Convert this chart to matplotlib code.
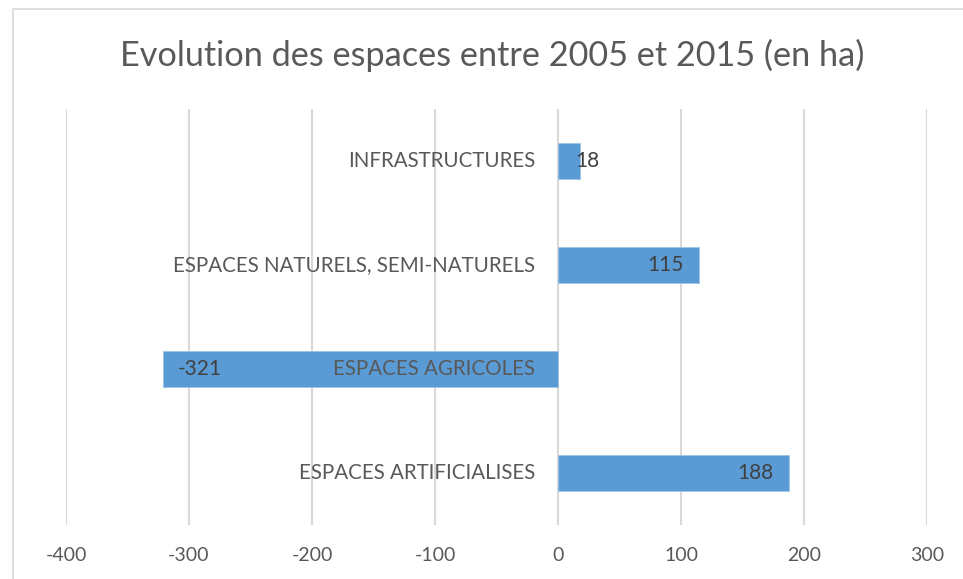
import matplotlib
matplotlib.use("Agg")
import matplotlib.pyplot as plt
from matplotlib.patches import Rectangle

categories = ["ESPACES ARTIFICIALISES", "ESPACES AGRICOLES",
              "ESPACES NATURELS, SEMI-NATURELS", "INFRASTRUCTURES"]
values = [188, -321, 115, 18]
xticks = [-400, -300, -200, -100, 0, 100, 200, 300]
title = "Evolution des espaces entre 2005 et 2015 (en ha)"

plt.rcParams['font.family'] = ['Lato', 'DejaVu Sans']

fig = plt.figure(figsize=(9.63, 5.79), dpi=100)
fig.add_artist(Rectangle((13/963, -0.1), 1.2, 1 - 9/579 + 0.1,
                         transform=fig.transFigure, fill=False,
                         edgecolor="#D9D9D9", linewidth=1.2))
ax = fig.add_axes([66/963, 1 - 525/579, (927 - 66)/963, (525 - 109)/579])

ypos = list(range(len(categories)))
ax.barh(ypos, values, height=0.35, color="#5B9BD5", edgecolor="#9DC3E6",
        linewidth=0.6, zorder=3)

ax.set_xlim(-400, 300)
ax.set_ylim(-0.5, len(categories) - 0.5)
ax.set_xticks(xticks)
ax.set_xticklabels([str(t) for t in xticks], fontsize=14, color="#595959")
ax.set_yticks([])
ax.tick_params(axis="x", length=0, pad=16)
for s in ax.spines.values():
    s.set_visible(False)
ax.grid(axis="x", color="#D9D9D9", linewidth=1.5, zorder=0)
ax.set_axisbelow(True)

px_per_unit = (927 - 66) / 700
for y, cat, v in zip(ypos, categories, values):
    ax.annotate(cat, xy=(0, y), xytext=(-23, 0), textcoords="offset pixels",
                ha="right", va="center", fontsize=14.8, color="#595959", zorder=4)
    if v >= 0:
        if v * px_per_unit < 40:
            ax.annotate(str(v), xy=(0, y), xytext=(17, 0), textcoords="offset pixels",
                        ha="left", va="center", fontsize=15, color="#404040", zorder=5)
        else:
            ax.annotate(str(v), xy=(v, y), xytext=(-16, 0), textcoords="offset pixels",
                        ha="right", va="center", fontsize=15, color="#404040", zorder=5)
    else:
        ax.annotate(str(v), xy=(v, y), xytext=(15, 0), textcoords="offset pixels",
                    ha="left", va="center", fontsize=15, color="#404040", zorder=5)

fig.text(492/963, 1 - 55/579, title, ha="center", va="center",
         fontsize=24.7, color="#595959")

fig.savefig("out.png", dpi=100)
